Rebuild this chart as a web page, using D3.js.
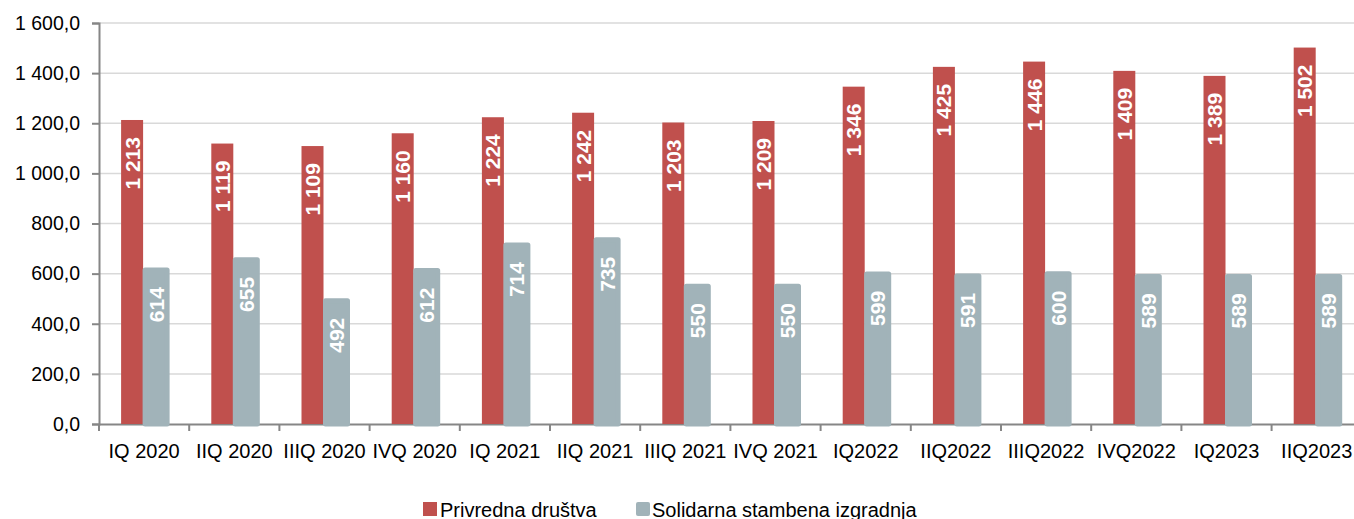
<!DOCTYPE html>
<html><head><meta charset="utf-8">
<script src="https://cdn.jsdelivr.net/npm/d3@7"></script>
<style>
html,body{margin:0;padding:0;background:#fff;}
svg{display:block;font-family:"Liberation Sans",Arial,sans-serif;}
</style></head>
<body>
<svg id="c" width="1354" height="519"></svg>
<script>
const categories = ["IQ 2020","IIQ 2020","IIIQ 2020","IVQ 2020","IQ 2021","IIQ 2021","IIIQ 2021","IVQ 2021","IQ2022","IIQ2022","IIIQ2022","IVQ2022","IQ2023","IIQ2023"];
const privredna = [1213,1119,1109,1160,1224,1242,1203,1209,1346,1425,1446,1409,1389,1502];
const solidarna = [614,655,492,612,714,735,550,550,599,591,600,589,589,589];
const yTicks = [0,200,400,600,800,1000,1200,1400,1600];
const seriesNames = ["Privredna društva","Solidarna stambena izgradnja"];
const colors = ["#c0504d","#a1b3b9"];

const svg = d3.select("#c");
const x = d3.scaleBand().domain(categories).range([99, 99 + 14*90.2]).padding(0);
const y = d3.scaleLinear().domain([0,1600]).range([424, 23]);
const fmt = v => {
  const s = v.toFixed(1).replace(".", ",");
  const [i,f] = s.split(",");
  return i.replace(/\B(?=(\d{3})+(?!\d))/g, " ") + "," + f;
};
const fmtInt = v => String(v).replace(/\B(?=(\d{3})+(?!\d))/g, " ");

// gridlines
svg.append("g").selectAll("line").data(yTicks.filter(d=>d>0)).join("line")
  .attr("x1",99).attr("x2",1354).attr("y1",d=>y(d)).attr("y2",d=>y(d))
  .attr("stroke","#d9d9d9").attr("stroke-width",1.5);

// y axis
const yAxis = svg.append("g").attr("transform","translate(99,0)")
  .call(d3.axisLeft(y).tickValues(yTicks).tickFormat(fmt).tickSize(7).tickPadding(12));
yAxis.select(".domain").attr("stroke","#868686").attr("stroke-width",2);
yAxis.selectAll(".tick line").attr("stroke","#868686").attr("stroke-width",2);
yAxis.selectAll(".tick text").attr("font-size",19.5).attr("fill","#000").attr("font-family","Liberation Sans, Arial, sans-serif");

// x axis
const xAxis = svg.append("g").attr("transform","translate(0,424)")
  .call(d3.axisBottom(x).tickSize(0).tickPadding(0));
xAxis.select(".domain").attr("stroke","#868686").attr("stroke-width",2);
xAxis.selectAll(".tick text").attr("font-size",20).attr("fill","#000").attr("y",34).attr("dy",0)
  .attr("font-family","Liberation Sans, Arial, sans-serif");
// tick marks at band boundaries
svg.append("g").selectAll("line").data(categories).join("line")
  .attr("x1",d=>x(d)).attr("x2",d=>x(d)).attr("y1",424).attr("y2",431)
  .attr("stroke","#868686").attr("stroke-width",2);

const bw = 22;
const cx = d => x(d) + x.bandwidth()/2;

// red bars
svg.append("g").selectAll("rect").data(categories).join("rect")
  .attr("x",d=>cx(d)-23).attr("width",bw)
  .attr("y",(d,i)=>y(privredna[i])).attr("height",(d,i)=>y(0)-y(privredna[i]))
  .attr("fill",colors[0]);
// grey bars
svg.append("g").selectAll("rect").data(categories).join("rect")
  .attr("x",d=>cx(d)+1).attr("width",bw)
  .attr("y",(d,i)=>y(solidarna[i])).attr("height",(d,i)=>y(0)-y(solidarna[i]))
  .attr("fill",colors[1]).attr("stroke",colors[1]).attr("stroke-width",5).attr("stroke-linejoin","round");

// labels
const lab = (vals, off) => svg.append("g").selectAll("text").data(categories).join("text")
  .attr("transform",(d,i)=>`translate(${cx(d)+off+7.5},${y(vals[i])+17}) rotate(-90)`)
  .attr("text-anchor","end").attr("fill","#fff").attr("font-weight","bold").attr("font-size",21)
  .text((d,i)=>fmtInt(vals[i]));
lab(privredna, -12);
lab(solidarna, 12);

// legend
const lg = svg.append("g");
lg.append("rect").attr("x",423).attr("y",502).attr("width",14).attr("height",14).attr("fill",colors[0]);
lg.append("text").attr("x",440).attr("y",517).attr("font-size",20).text(seriesNames[0]);
lg.append("rect").attr("x",636).attr("y",502).attr("width",14).attr("height",14).attr("rx",2).attr("fill",colors[1]);
lg.append("text").attr("x",652).attr("y",517).attr("font-size",20).text(seriesNames[1]);
</script>
</body></html>
